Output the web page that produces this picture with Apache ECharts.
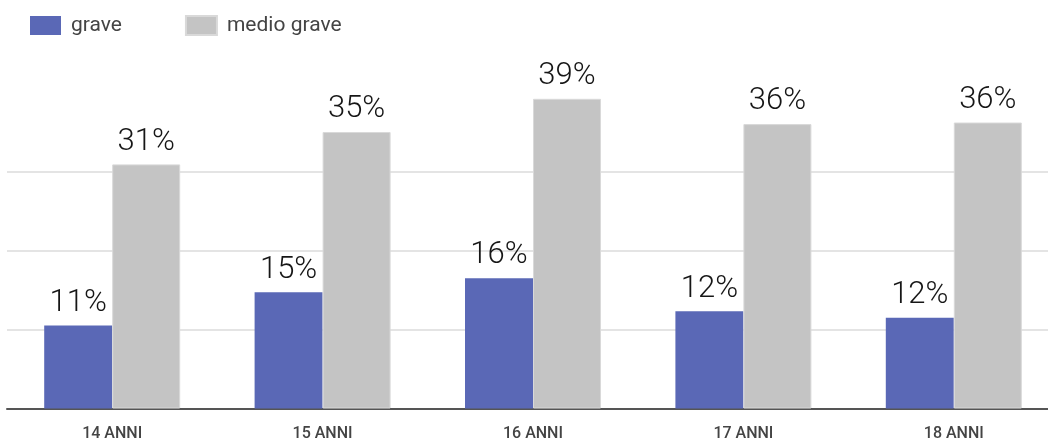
<!DOCTYPE html>
<html>
<head>
<meta charset="utf-8">
<script src="https://cdn.jsdelivr.net/npm/echarts@6/dist/echarts.min.js"></script>
<style>
  html, body { margin: 0; padding: 0; background: #fff; }
  #chart { width: 1048px; height: 444px; }
</style>
</head>
<body>
<div id="chart"></div>
<script>
// Categories and values
var categories = ['14 ANNI', '15 ANNI', '16 ANNI', '17 ANNI', '18 ANNI'];
var graveValues = [10.5, 14.7, 16.5, 12.3, 11.5];
var medioGraveValues = [30.9, 35.0, 39.2, 36.0, 36.2];
// handwritten labels on the bars
var graveLabels = ['11%', '15%', '16%', '12%', '12%'];
var medioGraveLabels = ['31%', '35%', '39%', '36%', '36%'];

var chart = echarts.init(document.getElementById('chart'), null, { renderer: 'canvas' });

var labelStyle = {
  show: true,
  position: 'top',
  distance: 7,
  color: '#161616',
  fontFamily: 'Roboto, sans-serif',
  fontSize: 31,
  fontWeight: 300
};

var option = {
  backgroundColor: '#ffffff',
  animation: false,
  legend: {
    left: 30,
    top: 15,
    padding: 0,
    icon: 'rect',
    itemWidth: 31,
    itemHeight: 19,
    itemGap: 63,
    textStyle: { color: '#444', fontSize: 21, fontFamily: 'Roboto, sans-serif', padding: [0, 0, 0, 5] },
    data: ['grave', 'medio grave']
  },
  grid: {
    left: 7,
    width: 1052,
    top: 92.5,
    bottom: 35.5,
    containLabel: false,
    outerBoundsMode: 'none'
  },
  xAxis: {
    type: 'category',
    data: categories,
    axisLine: { lineStyle: { color: '#555', width: 2 } },
    axisTick: { alignWithLabel: true, length: 5, lineStyle: { color: '#555', width: 2 } },
    axisLabel: {
      color: '#444',
      fontFamily: 'Roboto, sans-serif',
      fontSize: 16,
      fontWeight: 500,
      margin: 17
    }
  },
  yAxis: {
    type: 'value',
    min: 0,
    max: 40,
    interval: 10,
    axisLabel: { show: false },
    axisLine: { show: false },
    axisTick: { show: false },
    splitLine: {
      show: true,
      showMaxLine: false,
      lineStyle: { color: '#e4e4e4', width: 2 }
    }
  },
  series: [
    {
      name: 'grave',
      type: 'bar',
      barWidth: 68,
      barGap: '0%',
      itemStyle: { color: '#5a68b6' },
      label: Object.assign({}, labelStyle, {
        formatter: function (p) { return graveLabels[p.dataIndex]; }
      }),
      data: graveValues
    },
    {
      name: 'medio grave',
      type: 'bar',
      barWidth: 68,
      barGap: '0%',
      itemStyle: { color: '#c4c4c4', borderColor: '#d9d9d9', borderWidth: 1 },
      label: Object.assign({}, labelStyle, {
        formatter: function (p) { return medioGraveLabels[p.dataIndex]; }
      }),
      data: medioGraveValues
    }
  ]
};

chart.setOption(option);
</script>
</body>
</html>
